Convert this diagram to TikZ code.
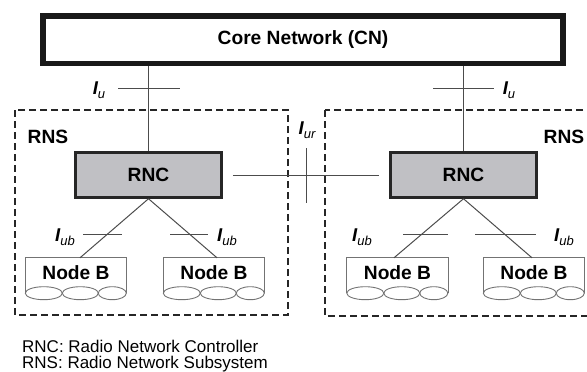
\documentclass[tikz,border=0pt]{standalone}
\usepackage{fontspec}
\setmainfont{Liberation Sans}
\usetikzlibrary{calc}

\definecolor{rncgray}{RGB}{192,192,196}
\newcommand{\ifc}[1]{{\fontsize{18.5}{18.5}\selectfont\bfseries\itshape I}\raisebox{-4pt}{\fontsize{13}{13}\selectfont\itshape #1}}

\begin{document}
\begin{tikzpicture}[x=1pt, y=-1pt,
    box/.style={font=\fontsize{19.2}{21}\selectfont\bfseries, inner sep=0pt},
    cnbox/.style={box, draw=black!90, line width=5.5pt, minimum width=520pt, minimum height=47.5pt},
    rncbox/.style={box, draw=black!85, fill=rncgray, line width=2.5pt, minimum width=146pt, minimum height=45pt},
    nbbox/.style={box, minimum width=101pt, minimum height=30pt},
    nbline/.style={draw=black!55, line width=0.9pt},
    rnsline/.style={draw=black!85, line width=2pt, dash pattern=on 7pt off 4pt},
    link/.style={draw=black!70, line width=1pt},
    lbl/.style={inner sep=0pt},
    legend/.style={anchor=base west, inner sep=0pt, font=\fontsize{17}{17}\selectfont}]
    \useasboundingbox (0,0) rectangle (587,372);
    %% RNS areas
    \draw[rnsline] (15,110) rectangle (288,315);
    \draw[rnsline] (325,110) rectangle (600,316);
    \node[box] (rnsL) at (48,137) {RNS};
    \node[box] (rnsR) at (564,137) {RNS};
    %% Core network and RNCs
    \node[cnbox] (cn) at (303,39.75) {Core Network (CN)};
    \node[rncbox] (rncL) at (148.5,175) {RNC};
    \node[rncbox] (rncR) at (463.5,175) {RNC};
    %% Node Bs
    \node[nbbox] (nbL1) at (76,273) {Node B};
    \node[nbbox] (nbL2) at (214,273) {Node B};
    \node[nbbox] (nbR1) at (397.5,273) {Node B};
    \node[nbbox] (nbR2) at (534,273) {Node B};
    \foreach \nb in {nbL1,nbL2,nbR1,nbR2}{
      \draw[nbline] ($(\nb.south west)+(0,5)$) -- (\nb.north west)
        -- (\nb.north east) -- ($(\nb.south east)+(0,5)$);
      \draw[nbline] ($(\nb.south west)+(18.5,5)$) ellipse [x radius=18.5pt, y radius=6.5pt];
      \draw[nbline] ($(\nb.south west)+(55,5)$) ellipse [x radius=18pt, y radius=6.5pt];
      \draw[nbline] ($(\nb.south west)+(87,5)$) ellipse [x radius=14pt, y radius=6.5pt];
    }
    %% links
    \draw[link] (cn.south -| rncL.north) -- (rncL.north);
    \draw[link] (cn.south -| rncR.north) -- (rncR.north);
    \draw[link] ([xshift=10pt]rncL.east) -- ([xshift=-10pt]rncR.west);
    \draw[link] (rncL.south) -- ([xshift=4pt]nbL1.north);
    \draw[link] (rncL.south) -- ([xshift=3pt]nbL2.north);
    \draw[link] (rncR.south) -- ([xshift=-3.5pt]nbR1.north);
    \draw[link] (rncR.south) -- ([xshift=-2pt]nbR2.north);
    %% interface ticks
    \draw[link] (118,88) to (180,88);
    \draw[link] (433,88) to (494,88);
    \draw[link] (306,148) to (306,203);
    \draw[link] (83,234) to (122,234)
    (170,234) to (208,234)
    (403,234) to (448,234)
    (475,234) to (536,234);
    \node[lbl] (iuL) at (99,90) {\ifc{u}};
    \node[lbl] (iuR) at (509,90) {\ifc{u}};
    \node[lbl] (iur) at (307,130) {\ifc{ur}};
    \node[lbl] (iubL1) at (65,237) {\ifc{ub}};
    \node[lbl] (iubL2) at (227,237) {\ifc{ub}};
    \node[lbl] (iubR1) at (362,237) {\ifc{ub}};
    \node[lbl] (iubR2) at (564,237) {\ifc{ub}};
    %% legend
    \node[legend] (lgRNC) at (22,352.5) {RNC: Radio Network Controller};
    \node[legend] (lgRNS) at (22,368) {RNS: Radio Network Subsystem};
\end{tikzpicture}
\end{document}
